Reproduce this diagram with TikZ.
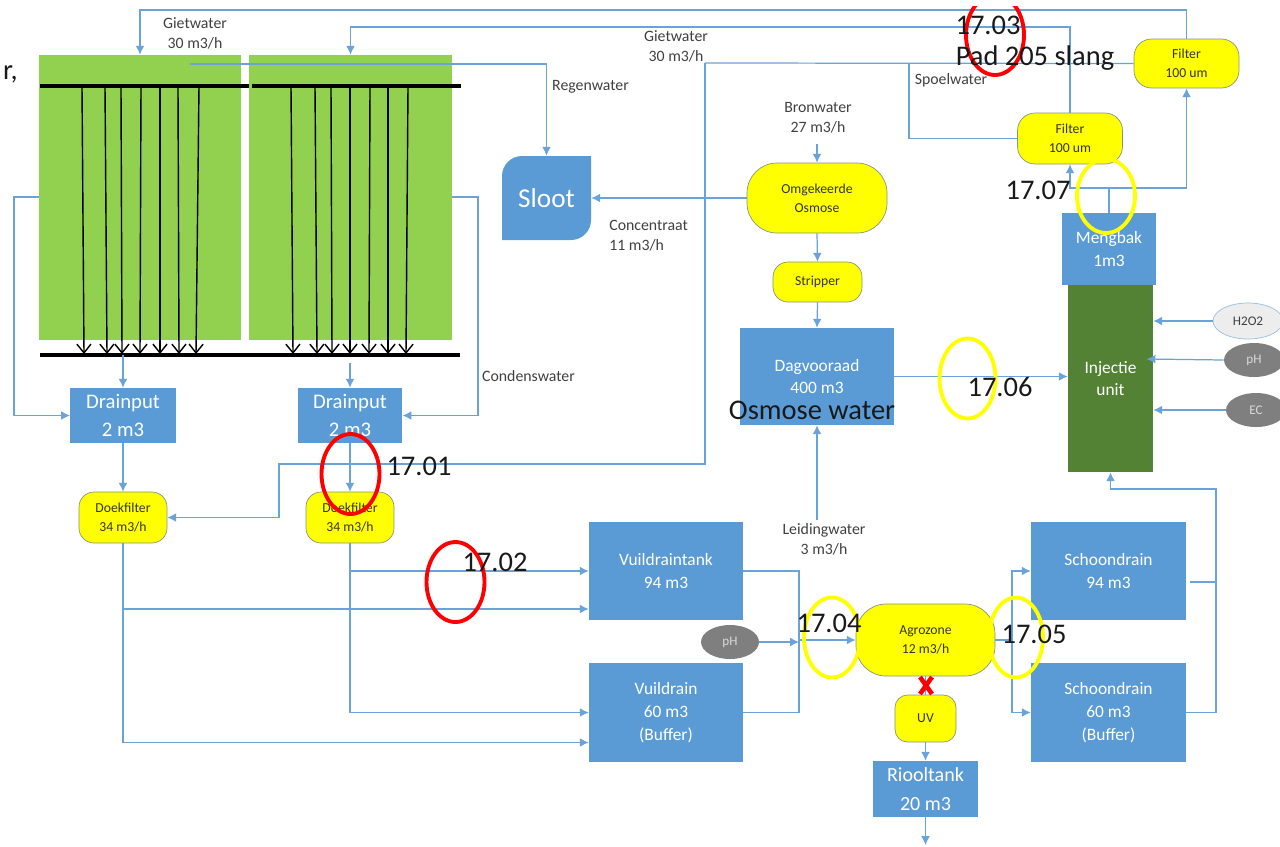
\documentclass[tikz,border=0pt]{standalone}
\usepackage{fontspec}
\setmainfont{Carlito}
\usetikzlibrary{arrows.meta,positioning,shapes.geometric}
\definecolor{tank_blue}{RGB}{91,155,213}
\definecolor{line_blue}{RGB}{105,163,218}
\definecolor{bed_green}{RGB}{146,208,80}
\definecolor{unit_green}{RGB}{84,130,53}
\definecolor{sensor_gray}{RGB}{127,127,127}
\definecolor{edge_gray}{RGB}{130,150,130}
\definecolor{filter_yellow}{RGB}{255,255,0}
\tikzset{
  tank/.style={fill=tank_blue,text=white,inner sep=0pt,align=center,font=\fontsize{9.9}{13}\selectfont},
  bigtank/.style={tank,font=\fontsize{11.8}{16}\selectfont},
  filterunit/.style={fill=filter_yellow,draw=edge_gray,thin,inner sep=0pt,align=center,text=black!80,font=\fontsize{7.8}{10.8}\selectfont},
  sensor/.style={ellipse,fill=sensor_gray,text=white!85!black,inner sep=0pt,font=\fontsize{7.5}{9}\selectfont},
  flowlabel/.style={text=black!75,align=center,inner sep=0pt,font=\fontsize{9}{11.4}\selectfont},
  pipe/.style={line_blue,line width=0.7pt},
  flow/.style={pipe,-{Latex[length=5pt,width=5pt]}},
  drip/.style={black,line width=0.8pt,-{Straight Barb[length=5pt,width=8pt]}},
  mark_red/.style={red,line width=2.2pt},
  mark_yellow/.style={filter_yellow,line width=2.2pt},
  note/.style={black!90,inner sep=0pt,font=\fontsize{16.2}{18}\selectfont}
}
\begin{document}
\begin{tikzpicture}[x=0.02cm,y=-0.02cm]
        \useasboundingbox (0,0) rectangle (1280,846);
        \node[fill=bed_green,inner sep=0pt,minimum width=4.04cm,minimum height=5.7cm] (bed_a) at (140,197.5) {};
        \node[fill=bed_green,inner sep=0pt,minimum width=4.06cm,minimum height=5.7cm] (bed_b) at (350.5,197.5) {};
        \draw[black,line width=1.9pt] (40,86)--(249,86) (252,86)--(461,86);
        \draw[black,line width=2.2pt] (40,355)--(460,355);
        \foreach \xa/\xb in {82/84,105/107,121/122,141/140,160/160,178/179,199/196,291/293,315/317,331/332,350/350,370/369,388/388,408/406}
          \draw[drip] (\xa,86)--(\xb,354);
        \node[anchor=east,note] (cut_text) at (18,74) {r,};

        \node[tank,minimum width=2.11cm,minimum height=1.1cm,bigtank] (drainput_a) at (123,415.5) {Drainput\\2 m3};
        \node[tank,minimum width=2.09cm,minimum height=1.1cm,bigtank] (drainput_b) at (350,415.5) {Drainput\\2 m3};
        \node[filterunit,rounded corners=0.3cm,minimum width=1.76cm,minimum height=1.02cm] (doek_a) at (123,517.5) {Doekfilter\\34 m3/h};
        \node[filterunit,rounded corners=0.3cm,minimum width=1.76cm,minimum height=1.02cm] (doek_b) at (350,517.5) {Doekfilter\\34 m3/h};

        \fill[tank_blue] (502,240) [rounded corners=0.4cm] -- (502,156) [sharp corners] -- (591,156) [rounded corners=0.4cm] -- (591,240) [sharp corners] -- cycle;
        \node[text=white,inner sep=0pt,minimum width=1.78cm,minimum height=1.68cm,font=\fontsize{15.5}{18}\selectfont] (sloot) at (546.5,198) {Sloot};

        \node[filterunit,rounded corners=0.6cm,minimum width=2.8cm,minimum height=1.4cm] (osmose) at (817,198) {Omgekeerde\\Osmose};
        \node[filterunit,rounded corners=0.3cm,minimum width=1.78cm,minimum height=0.8cm] (stripper) at (817.5,282) {Stripper};
        \node[tank,minimum width=3.08cm,minimum height=1.94cm] (dagvoorraad) at (817,376.5) {Dagvooraad\\400 m3};
        \node[filterunit,rounded corners=0.35cm,minimum width=2.1cm,minimum height=1.02cm] (filter_a) at (1070,138.5) {Filter\\100 um};
        \node[filterunit,rounded corners=0.35cm,minimum width=2.1cm,minimum height=0.98cm] (filter_b) at (1186.5,63.5) {Filter\\100 um};
        \node[tank,minimum width=1.89cm,minimum height=1.44cm] (mengbak) at (1109,249) {Mengbak\\1m3};
        \node[fill=unit_green,text=white,inner sep=0pt,align=center,minimum width=1.7cm,minimum height=3.74cm,font=\fontsize{9.9}{13}\selectfont] (injectie) at (1110.5,378.5) {Injectie\\unit};
        \node[ellipse,fill=black!7,draw=line_blue!70,thin,inner sep=0pt,minimum width=1.4cm,minimum height=0.72cm,text=black!75,font=\fontsize{7.5}{9}\selectfont] (sensor_h2o2) at (1248,321) {H2O2};
        \node[sensor,minimum width=1.2cm,minimum height=0.68cm] (sensor_ph_a) at (1254,360) {pH};
        \node[sensor,minimum width=1.2cm,minimum height=0.68cm] (sensor_ec) at (1256,410) {EC};

        \node[tank,minimum width=3.08cm,minimum height=1.96cm] (vuil_tank) at (666,571) {Vuildraintank\\94 m3};
        \node[tank,minimum width=3.08cm,minimum height=1.98cm] (vuil_buffer) at (666,712.5) {Vuildrain\\60 m3\\(Buffer)};
        \node[tank,minimum width=3.1cm,minimum height=1.96cm] (schoon_tank) at (1108.5,571) {Schoondrain\\94 m3};
        \node[tank,minimum width=3.1cm,minimum height=1.98cm] (schoon_buffer) at (1108.5,712.5) {Schoondrain\\60 m3\\(Buffer)};
        \node[sensor,minimum width=1.16cm,minimum height=0.68cm] (sensor_ph_b) at (730,642) {pH};
        \node[filterunit,rounded corners=0.6cm,minimum width=2.78cm,minimum height=1.44cm] (agrozone) at (925.5,640) {Agrozone\\12 m3/h};
        \node[filterunit,rounded corners=0.25cm,minimum width=1.22cm,minimum height=0.94cm] (uv) at (925.5,718.5) {UV};
        \node[tank,minimum width=2.11cm,minimum height=1.12cm,font=\fontsize{11.4}{16.4}\selectfont] (riool) at (925.5,789) {Riooltank\\20 m3};

        \coordinate (giet_a) at (140,10);
        \coordinate (giet_b) at (350.5,27);
        \coordinate (spoel_corner) at (705,63);
        \coordinate (spoel_drop) at (279,464);
        \coordinate (spoel_branch) at (909,63);
        \coordinate (regen_start) at (190,64);
        \coordinate (regen_corner) at (546.5,64);
        \coordinate (bron_start) at (817,144);
        \coordinate (leiding_start) at (817,520);
        \coordinate (meng_split) at (1109,188);
        \coordinate (bar_a) at (123,355);
        \coordinate (bar_b) at (350,363);
        \coordinate (cond_a) at (14,197);
        \coordinate (cond_b) at (478,197);
        \coordinate (vuil_merge) at (799,640);
        \coordinate (schoon_split) at (1012,640);
        \coordinate (schoon_merge) at (1216,489);
        \coordinate (riool_out) at (925.5,845);

        \draw[flow] (filter_b.north) |- (giet_a) -- (bed_a.north);
        \draw[flow] (filter_a.north) |- (giet_b) -- (bed_b.north);
        \draw[pipe] (filter_b.west) -- (spoel_corner);
        \draw[flow] (spoel_corner) |- (spoel_drop) |- (doek_a.east);
        \draw[pipe] (spoel_branch) |- (filter_a.west);
        \draw[flow] (regen_start) -- (regen_corner) -- (sloot.north);
        \draw[flow] (osmose.west) -- (sloot.east);
        \draw[flow] (bron_start) -- (osmose.north);
        \draw[flow] (osmose.south) -- (stripper.north);
        \draw[flow] (stripper.south) -- (dagvoorraad.north);
        \draw[flow] (leiding_start) -- (dagvoorraad.south);
        \draw[flow] (dagvoorraad.east) -- (injectie.west |- dagvoorraad.east);
        \draw[pipe] (mengbak.north) -- (meng_split);
        \draw[flow] (meng_split) -| (filter_a.south);
        \draw[flow] (meng_split) -| (filter_b.south);
        \draw[flow] (sensor_h2o2.west) -- (injectie.east |- sensor_h2o2.west);
        \draw[flow] (sensor_ph_a.west) -- ++(-77,-1);
        \draw[flow] (sensor_ec.west) -- (injectie.east |- sensor_ec.west);
        \draw[flow] (bar_a) -- (drainput_a.north);
        \draw[flow] (bar_b) -- (drainput_b.north);
        \draw[flow] (bed_a.west |- cond_a) -- (cond_a) |- (drainput_a.west);
        \draw[flow] (bed_b.east |- cond_b) -- (cond_b) |- (drainput_b.east);
        \draw[flow] (drainput_a.south) -- (doek_a.north);
        \draw[flow] (drainput_b.south) -- (doek_b.north);
        \draw[flow] (doek_a.south) |- ([yshift=-0.76cm]vuil_tank.west);
        \draw[flow] (doek_a.south) |- ([yshift=-0.6cm]vuil_buffer.west);
        \draw[flow] (doek_b.south) |- (vuil_tank.west);
        \draw[flow] (doek_b.south) |- (vuil_buffer.west);
        \draw[pipe] (vuil_tank.east) -| (vuil_merge) |- (vuil_buffer.east);
        \draw[flow] (vuil_merge) -- (agrozone.west);
        \draw[flow] (sensor_ph_b.east) -- (vuil_merge |- sensor_ph_b.east);
        \draw[pipe] (agrozone.east) -- (schoon_split);
        \draw[flow] (schoon_split) |- (schoon_tank.west);
        \draw[flow] (schoon_split) |- (schoon_buffer.west);
        \draw[pipe] ([xshift=0.08cm,yshift=-0.22cm]schoon_tank.east) -| (schoon_merge);
        \draw[flow] (schoon_buffer.east) -| (schoon_merge) -| (injectie.south);
        \draw[pipe] (agrozone.south) -- (uv.north);
        \draw[flow] (uv.south) -- (riool.north);
        \draw[flow] (riool.south) -- (riool_out);
        \draw[red,line width=2.6pt] (920,677)--(932,694) (932,677)--(920,694);

        \node[flowlabel] (giet_label_a) at (195,33) {Gietwater\\30 m3/h};
        \node[flowlabel] (giet_label_b) at (676,46.5) {Gietwater\\30 m3/h};
        \node[flowlabel] (regen_label) at (590.5,87) {Regenwater};
        \node[flowlabel,align=left,anchor=west] (conc_label) at (609,235.5) {Concentraat\\11 m3/h};
        \node[flowlabel] (spoel_label) at (951,80) {Spoelwater};
        \node[flowlabel] (bron_label) at (818,117.5) {Bronwater\\27 m3/h};
        \node[flowlabel] (cond_label) at (528.5,376) {Condenswater};
        \node[flowlabel] (leiding_label) at (824,539.5) {Leidingwater\\3 m3/h};

        \begin{scope}
          \clip (940,6) rectangle (1050,90);
          \draw[mark_red] (995,35) ellipse [x radius=0.58cm,y radius=0.8cm];
        \end{scope}
        \draw[mark_red] (350.5,474) ellipse [x radius=0.58cm,y radius=0.8cm];
        \draw[mark_red] (455.5,582) ellipse [x radius=0.58cm,y radius=0.8cm];
        \draw[mark_yellow] (1106,196) ellipse [x radius=0.58cm,y radius=0.74cm];
        \draw[mark_yellow] (967.5,378.5) ellipse [x radius=0.56cm,y radius=0.8cm];
        \draw[mark_yellow] (832,637.5) ellipse [x radius=0.56cm,y radius=0.8cm];
        \draw[mark_yellow] (1016,637.5) ellipse [x radius=0.54cm,y radius=0.8cm];

        \node[note] (note_03) at (988,25) {17.03};
        \node[note] (note_pad) at (1035,58) {Pad 205 slang};
        \node[note] (note_07) at (1038,190) {17.07};
        \node[note] (note_06) at (1000,387) {17.06};
        \node[note] (note_osmose) at (812,410) {Osmose water};
        \node[note] (note_01) at (419,466) {17.01};
        \node[note] (note_02) at (495,562) {17.02};
        \node[note] (note_04) at (829,623) {17.04};
        \node[note] (note_05) at (1034,634) {17.05};
      \end{tikzpicture}
\end{document}
